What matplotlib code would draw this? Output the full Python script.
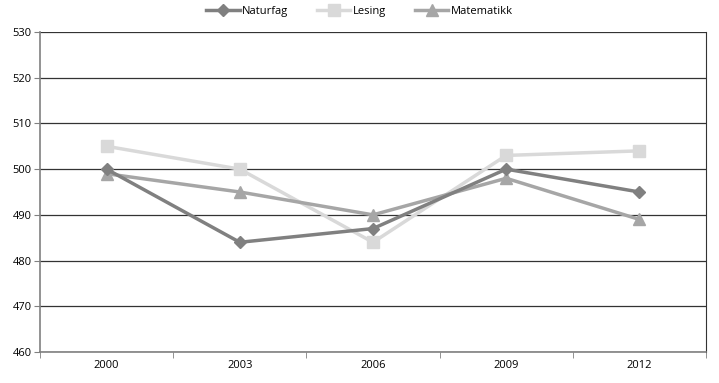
import matplotlib.pyplot as plt
import numpy as np

years = ['2000', '2003', '2006', '2009', '2012']
naturfag = [500, 484, 487, 500, 495]
lesing = [505, 500, 484, 503, 504]
matematikk = [499, 495, 490, 498, 489]

plt.rcParams['font.family'] = ['Open Sans', 'DejaVu Sans']

fig = plt.figure(figsize=(7.19, 3.83), dpi=100)
ax = fig.add_axes([40 / 719, 1 - 352 / 383, 666 / 719, 320 / 383])

x = np.arange(len(years))
ax.plot(x, naturfag, color='#808080', lw=2.5, marker='D', ms=6.5, label='Naturfag', zorder=4)
ax.plot(x, lesing, color='#d9d9d9', lw=2.5, marker='s', ms=8.5, label='Lesing', zorder=3)
ax.plot(x, matematikk, color='#a6a6a6', lw=2.5, marker='^', ms=9, label='Matematikk', zorder=3)

ax.set_xlim(-0.5, len(years) - 0.5)
ax.set_ylim(460, 530)
ax.set_yticks(range(460, 531, 10))
ax.set_xticks(x)
ax.set_xticklabels(years)
ax.set_xticks(np.arange(-0.5, len(years)), minor=True)
ax.tick_params(axis='x', which='major', length=0, labelsize=8, pad=6)
ax.tick_params(axis='x', which='minor', length=4, color='#808080')
ax.tick_params(axis='y', length=4, color='#808080', labelsize=8, pad=2)

ax.grid(axis='y', color='#333333', lw=0.9)
ax.set_axisbelow(True)
ax.spines['top'].set_visible(False)
ax.spines['left'].set_color('#808080')
ax.spines['bottom'].set_color('#808080')
ax.spines['right'].set_color('#333333')
ax.spines['left'].set_linewidth(1.2)
ax.spines['bottom'].set_linewidth(1.2)

fig.legend(loc='upper center', bbox_to_anchor=(0.5, 1.01), ncol=3, frameon=False,
           fontsize=8, handlelength=3.0, columnspacing=2.6, handletextpad=0.2)

fig.savefig('out.png', dpi=100)
